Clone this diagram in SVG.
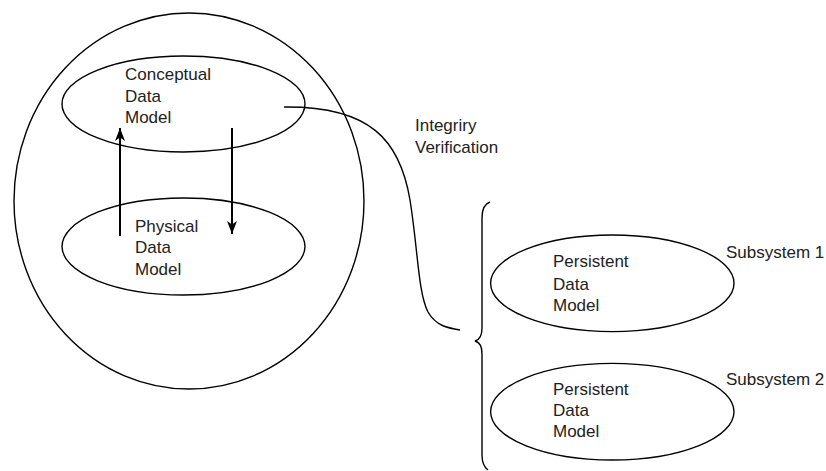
<svg xmlns="http://www.w3.org/2000/svg" width="826" height="471" viewBox="0 0 826 471">
<defs>
<style>
.shape{fill:none;stroke:#000;stroke-width:1.4}
.conn{fill:none;stroke:#000;stroke-width:1.4}
.arrow{fill:none;stroke:#000;stroke-width:2}
.lbl{font-family:"Liberation Sans",Arial,sans-serif;font-size:17px;fill:#222}
</style>
<marker id="ah" viewBox="0 0 13 10" refX="13" refY="5" markerWidth="13" markerHeight="10" markerUnits="userSpaceOnUse" orient="auto">
<path d="M0,0 L13,5 L0,10 L3.5,5 Z" fill="#000"/>
</marker>
</defs>
<rect width="826" height="471" fill="#fff"/>
<g id="system">
<ellipse class="shape" cx="189" cy="201" rx="175" ry="188"/>
</g>
<g id="conceptual">
<ellipse class="shape" cx="183.5" cy="104" rx="121.5" ry="48"/>
<text class="lbl" x="125" y="80">Conceptual</text>
<text class="lbl" x="125" y="101.5">Data</text>
<text class="lbl" x="125" y="123">Model</text>
</g>
<g id="physical">
<ellipse class="shape" cx="183.5" cy="246.5" rx="121.5" ry="48.5"/>
<text class="lbl" x="135" y="232">Physical</text>
<text class="lbl" x="135" y="253">Data</text>
<text class="lbl" x="135" y="274.5">Model</text>
</g>
<g id="persistent1">
<ellipse class="shape" cx="612.3" cy="283.3" rx="121.7" ry="48.3"/>
<text class="lbl" x="553" y="267">Persistent</text>
<text class="lbl" x="553" y="289.5">Data</text>
<text class="lbl" x="553" y="311">Model</text>
<text class="lbl" x="726" y="258">Subsystem 1</text>
</g>
<g id="persistent2">
<ellipse class="shape" cx="612.3" cy="411.7" rx="121.7" ry="48.3"/>
<text class="lbl" x="553" y="395">Persistent</text>
<text class="lbl" x="553" y="416">Data</text>
<text class="lbl" x="553" y="437">Model</text>
<text class="lbl" x="726" y="385">Subsystem 2</text>
</g>
<g id="verification-label">
<text class="lbl" x="415" y="131">Integriry</text>
<text class="lbl" x="415" y="153">Verification</text>
</g>
<g id="connectors">
<line class="arrow" x1="120" y1="236" x2="120" y2="128" marker-end="url(#ah)"/>
<line class="arrow" x1="232" y1="128" x2="232" y2="234" marker-end="url(#ah)"/>
<path class="conn" d="M284,107 C370,106 400,140 410,200 C418,250 418,292 428,312 C436,326 448,328 460,330"/>
<path class="conn" d="M490,202 C484,204 482,210 482,218 L482,328 C482,336 479,340 475,341 C479,342 482,346 482,354 L482,455 C482,462 484,467 488,470"/>
</g>
</svg>
